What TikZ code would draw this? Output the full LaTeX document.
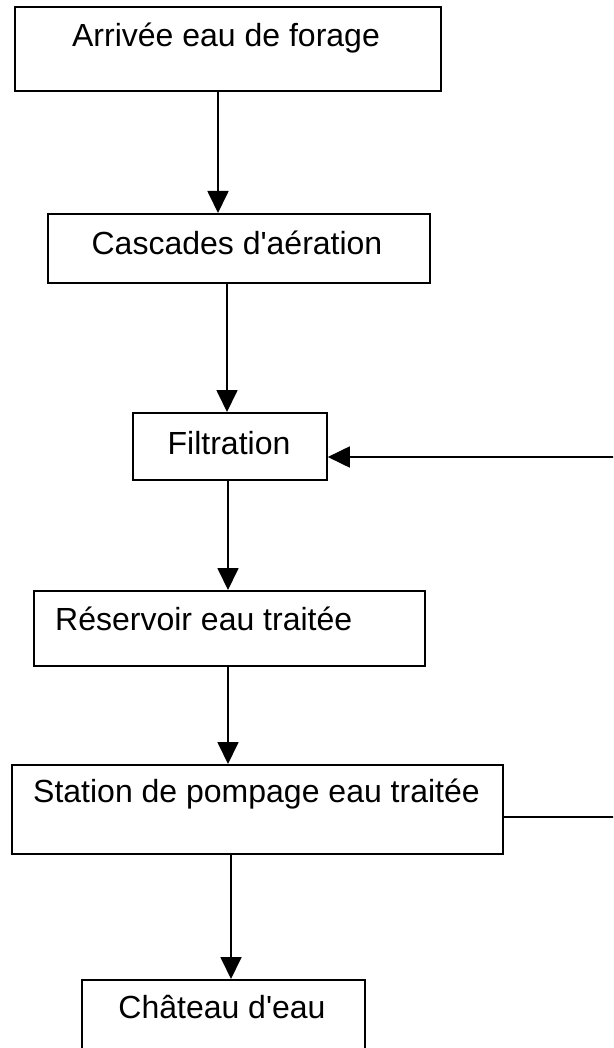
\documentclass[tikz,border=0pt]{standalone}
\usepackage{fontspec}
\setmainfont{Liberation Sans}
\usetikzlibrary{arrows.meta}
\begin{document}
\begin{tikzpicture}[x=1pt,y=-1pt,
  box/.style={draw=black, line width=1.8pt, inner sep=0pt, anchor=north west, fill=white},
  txt/.style={inner sep=0pt, font=\fontsize{32}{38}\selectfont},
  conn/.style={draw=black, line width=1.8pt},
  arr/.style={conn, -{Triangle[length=22pt, width=21pt]}}]
\useasboundingbox (0,0) rectangle (613,1048);
\clip (0,0) rectangle (613,1048);
\fill[white] (0,0) rectangle (613,1048);
% boxes
\node[box, minimum width=426pt, minimum height=84pt] (b1) at (14,6) {};
\node[box, minimum width=382pt, minimum height=69pt] (b2) at (47,213) {};
\node[box, minimum width=194pt, minimum height=67pt] (b3) at (132,412) {};
\node[box, minimum width=391pt, minimum height=75pt] (b4) at (33,590) {};
\node[box, minimum width=491pt, minimum height=89pt] (b5) at (11,764) {};
\node[box, minimum width=283pt, minimum height=100pt] (b6) at (81,979) {};
% texts
\node[txt, anchor=base] (t1) at (226,47) {Arrivée eau de forage};
\node[txt, anchor=base] (t2) at (237,255) {Cascades d\textquotesingle aération};
\node[txt, anchor=base] (t3) at (229,454) {Filtration};
\node[txt, anchor=base west] (t4) at (55,630) {Réservoir eau traitée};
\node[txt, anchor=base west] (t5) at (33,802) {Station de pompage eau traitée};
\node[txt, anchor=base] (t6) at (222,1018) {Château d\textquotesingle eau};
% connector columns
\coordinate (x1) at (218,0);
\coordinate (x2) at (227,0);
\coordinate (x3) at (228,0);
\coordinate (x4) at (228,0);
\coordinate (x5) at (231,0);
\coordinate (e1) at (614,457);
\coordinate (e2) at (614,817);
\draw[arr] (b1.south -| x1) -- (b2.north -| x1);
\draw[arr] (b2.south -| x2) -- (b3.north -| x2);
\draw[arr] (b3.south -| x3) -- (b4.north -| x3);
\draw[arr] (b4.south -| x4) -- (b5.north -| x4);
\draw[arr] (b5.south -| x5) -- (b6.north -| x5);
\draw[conn] (b5.east |- e2) -- (e2);
\draw[arr] (e1) -- (b3.east |- e1);
\end{tikzpicture}
\end{document}
